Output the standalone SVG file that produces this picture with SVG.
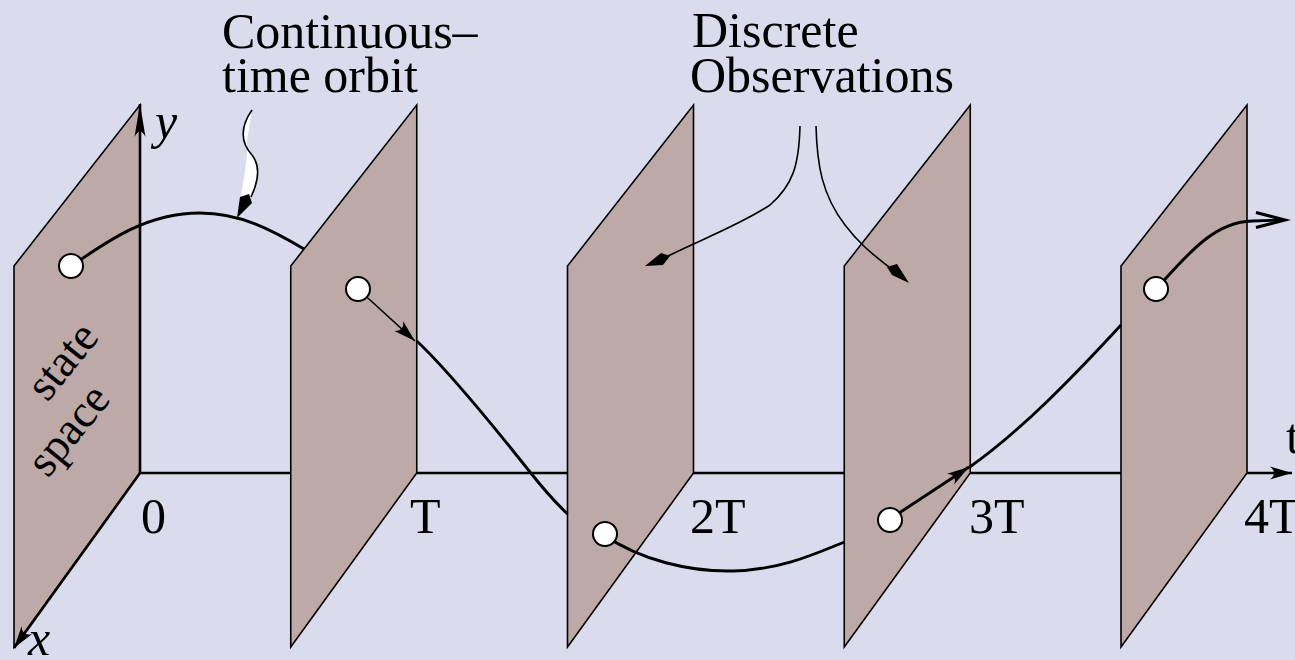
<svg xmlns="http://www.w3.org/2000/svg" width="1295" height="660" viewBox="0 0 1295 660">
<style>
.plane{fill:#BDA9A8;stroke:#000;stroke-width:1.6;stroke-linejoin:miter}
.axis{fill:none;stroke:#000;stroke-width:2.6}
.orbit{fill:none;stroke:#000;stroke-width:2.9;stroke-linecap:butt}
.thin{fill:none;stroke:#000;stroke-width:1.6}
.dot{fill:#fff;stroke:#000;stroke-width:2}
.lbl{font-family:"Liberation Serif","Times New Roman",serif;font-size:50px;fill:#000}
.it{font-style:italic}
.head{fill:#000;stroke:none}
</style>
<defs>
<marker id="arr" markerUnits="userSpaceOnUse" viewBox="-26 -9 28 18" refX="0" refY="0" markerWidth="28" markerHeight="18" orient="auto">
<path d="M0,0 L-22,-6.5 Q-14,0 -22,6.5 Z"/>
</marker>
<marker id="arrlong" markerUnits="userSpaceOnUse" viewBox="-36 -8 38 16" refX="0" refY="0" markerWidth="38" markerHeight="16" orient="auto">
<path d="M0,0 L-33,-5.5 Q-22,0 -33,5.5 Z"/>
</marker>
</defs>
<rect x="0" y="0" width="1295" height="660" fill="#DADCEE"/>

<g id="plane-0"><polygon class="plane" points="14,266 140,105 140,473 14,647"/></g>
<g id="plane-T"><polygon class="plane" points="290.75,266 416.75,105 416.75,473 290.75,647"/></g>
<g id="plane-2T"><polygon class="plane" points="567.5,266 693.5,105 693.5,473 567.5,647"/></g>
<g id="plane-3T"><polygon class="plane" points="844.25,266 970.25,105 970.25,473 844.25,647"/></g>
<g id="plane-4T"><polygon class="plane" points="1121,266 1247,105 1247,473 1121,647"/></g>

<g id="connectors">
<g id="axes">
<path class="axis" d="M140,473 L140,104" marker-end="url(#arrlong)"/>
<path class="axis" d="M140,473 L14,648" marker-end="url(#arr)"/>
<path class="axis" d="M140,473 L290.75,473 M416.75,473 L567.5,473 M693.5,473 L844.25,473 M970.25,473 L1121,473"/>
<path class="axis" d="M1247,473 L1292,473" marker-end="url(#arr)"/>
</g>
<g id="orbit">
<path class="orbit" d="M70,267 C105,243 145,213 200,213 C240,213 272,230 304,249"/>
<path class="thin" d="M358,289 L415,341" marker-end="url(#arr)"/>
<path class="orbit" d="M416.75,341 C450,372 495,428 530,472 C545,491 556,503 567.5,514"/>
<path class="orbit" d="M604,535 C640,560 690,572 733,571 C780,570 815,554 844.25,542"/>
<path class="orbit" d="M890,519 L969,467" marker-end="url(#arr)"/>
<path class="orbit" d="M969,467.5 C1020,432 1075,375 1121,325"/>
<path class="orbit" d="M1156,289 C1185,258 1212,222 1252,221 L1282,220"/>
<path fill="none" stroke="#000" stroke-width="3" d="M1256,212.5 L1285,220 L1256,227.5"/>
</g>
<g id="pointer-continuous">
<path fill="#fff" stroke="none" d="M252,110 C238,130 243,145 252,155 C260,165 259,180 251,197 L241,197 C244,175 248,160 247,140 Z"/>
<path class="thin" d="M252,110 C238,130 243,145 252,155 C260,165 259,180 251,197"/>
<polygon class="head" points="240,197 249,194 252,203 237,218"/>
</g>
<g id="pointer-discrete">
<path class="thin" d="M800,126 C799,165 793,185 770,205 C740,225 700,240 668,256"/>
<polygon class="head" points="670,256 661,253 645,266 663,265"/>
<path class="thin" d="M816,126 C817,165 822,195 845,225 C860,245 875,256 889,267"/>
<polygon class="head" points="887,267 897,264 909,283 892,275"/>
</g>
</g>

<g id="dots">
<circle class="dot" cx="71" cy="266" r="12"/>
<circle class="dot" cx="358" cy="289" r="12"/>
<circle class="dot" cx="605" cy="534" r="12"/>
<circle class="dot" cx="890" cy="520" r="12"/>
<circle class="dot" cx="1156" cy="289" r="12"/>
</g>

<g id="labels">
<text class="lbl" x="222" y="48">Continuous–</text>
<text class="lbl" x="222" y="92">time orbit</text>
<text class="lbl" x="692" y="47">Discrete</text>
<text class="lbl" x="690" y="92">Observations</text>
<text class="lbl it" x="155" y="138">y</text>
<text class="lbl it" x="28" y="655">x</text>
<text class="lbl" x="1286" y="453">t</text>
<text class="lbl" x="141" y="533">0</text>
<text class="lbl" x="410" y="533">T</text>
<text class="lbl" x="690" y="533">2T</text>
<text class="lbl" x="969" y="533">3T</text>
<text class="lbl" x="1244" y="533">4T</text>
<text class="lbl" style="font-size:46px" text-anchor="middle" transform="translate(66,364) rotate(-51)" y="10">state</text>
<text class="lbl" style="font-size:46px" text-anchor="middle" transform="translate(72,433) rotate(-51)" y="10">space</text>
</g>
</svg>
